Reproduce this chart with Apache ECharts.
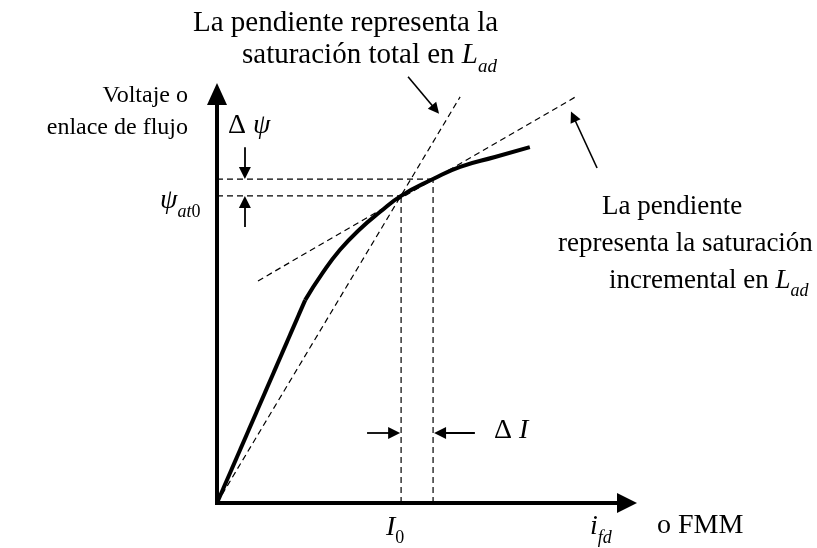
<!DOCTYPE html>
<html><head><meta charset="utf-8">
<script src="https://cdn.jsdelivr.net/npm/echarts@6/dist/echarts.min.js"></script>
<style>html,body{margin:0;padding:0;background:#fff}#c{width:817px;height:548px}</style>
</head><body><div id="c"></div>
<script>
// Magnetization (open-circuit saturation) curve, arbitrary units: x = field current, y = flux linkage
const curveLinear = [[0, 0], [21.5, 49.6]];
const curveSat = [[21.5, 49.6], [25.6, 56.0], [30.0, 61.9], [34.9, 67.0], [39.8, 71.2], [44.9, 75.1], [52.7, 79.2], [59.3, 82.2], [67.8, 84.6], [76.3, 87.0]];
const secantLine = [[0, 0], [59.3, 99.3]];
const tangentLine = [[10.0, 54.3], [87.8, 99.5]];
const I0 = 44.9, I1 = 52.7;
const psi0 = 75.1, psi1 = 79.2;
const dPsiArrows = [[[6.8, 87.0], [6.8, 80.7]], [[6.8, 67.5], [6.8, 73.6]]];
const dIArrows = [[[36.6, 17.1], [43.2, 17.1]], [[62.9, 17.1], [54.4, 17.1]]];
const pointerArrows = [[[46.6, 104.2], [53.3, 96.2]], [[92.7, 81.9], [86.9, 94.5]]];

const FONT = "'Liberation Serif','Times New Roman',serif";
const chart = echarts.init(document.getElementById('c'), null, {renderer: 'canvas'});
const dash = {color: '#000', width: 1.2, type: [6, 4]};
function seg(data) {
  return {type: 'line', data: data, showSymbol: false, symbol: 'none', clip: false, silent: true, lineStyle: dash, z: 3};
}
function rich(fs) {
  const sub = Math.round(fs * 0.66);
  return {
    n: {fontSize: fs, fontFamily: FONT, lineHeight: fs + 12, fill: '#000'},
    i: {fontSize: fs, fontFamily: FONT, fontStyle: 'italic', lineHeight: fs + 12, fill: '#000'},
    sub: {fontSize: sub, fontFamily: FONT, fontStyle: 'italic', lineHeight: sub, verticalAlign: 'bottom', fill: '#000'},
    subn: {fontSize: sub, fontFamily: FONT, lineHeight: sub, verticalAlign: 'bottom', fill: '#000'}
  };
}
function label(x, y, text, fs, align) {
  return {type: 'text', x: x, y: y, z: 10, style: {text: text, fill: '#000', fontSize: fs, fontFamily: FONT,
    lineHeight: fs + 12, align: align || 'left', verticalAlign: 'middle', rich: rich(fs)}};
}
function arrows(data, size, width) {
  return {type: 'lines', coordinateSystem: 'cartesian2d', clip: false, silent: true, z: 4,
    symbol: ['none', 'triangle'], symbolSize: size,
    lineStyle: {color: '#000', width: width, opacity: 1},
    data: data.map(c => ({coords: c}))};
}

chart.setOption({
  animation: false,
  grid: {left: 217, top: 94, width: 410, height: 409},
  xAxis: {type: 'value', min: 0, max: 100, splitLine: {show: false}, axisTick: {show: false}, axisLabel: {show: false},
    axisLine: {onZero: true, symbol: ['none', 'triangle'], symbolSize: [20, 20], lineStyle: {color: '#000', width: 4, cap: 'square'}}},
  yAxis: {type: 'value', min: 0, max: 100, splitLine: {show: false}, axisTick: {show: false}, axisLabel: {show: false},
    axisLine: {show: true, symbol: ['none', 'triangle'], symbolSize: [20, 22], lineStyle: {color: '#000', width: 4, cap: 'square'}}},
  series: [
    {type: 'line', data: curveLinear, showSymbol: false, symbol: 'none', clip: false, lineStyle: {color: '#000', width: 4}, z: 5},
    {type: 'line', data: curveSat, smooth: true, showSymbol: false, symbol: 'none', clip: false, lineStyle: {color: '#000', width: 4}, z: 5},
    seg(secantLine),
    seg(tangentLine),
    seg([[0, psi0], [I0, psi0]]),
    seg([[0, psi1], [I1, psi1]]),
    seg([[I0, 0], [I0, psi0]]),
    seg([[I1, 0], [I1, psi1]]),
    arrows(dPsiArrows, [10, 12], 1.8),
    arrows(dIArrows, [10, 12], 1.8),
    arrows(pointerArrows, [8, 11], 1.6)
  ],
  graphic: [
    label(193, 23.5, 'La pendiente representa la', 29),
    label(242, 55.5, 'saturación total en {i|L}{sub|ad}', 29),
    label(188, 96, 'Voltaje o', 24, 'right'),
    label(188, 128, 'enlace de flujo', 24, 'right'),
    label(228, 125.5, 'Δ {i|ψ}', 28),
    label(160, 201, '{i|ψ}{sub|at}{subn|0}', 28),
    label(602, 207, 'La pendiente', 27),
    label(558, 244, 'representa la saturación', 27),
    label(609, 280.5, 'incremental en {i|L}{sub|ad}', 27),
    label(386, 527.5, '{i|I}{subn|0}', 28),
    label(494, 431, 'Δ {i|I}', 28),
    label(590, 527, '{i|i}{sub|fd}', 28),
    label(657, 526, 'o FMM', 28)
  ]
});
</script></body></html>
